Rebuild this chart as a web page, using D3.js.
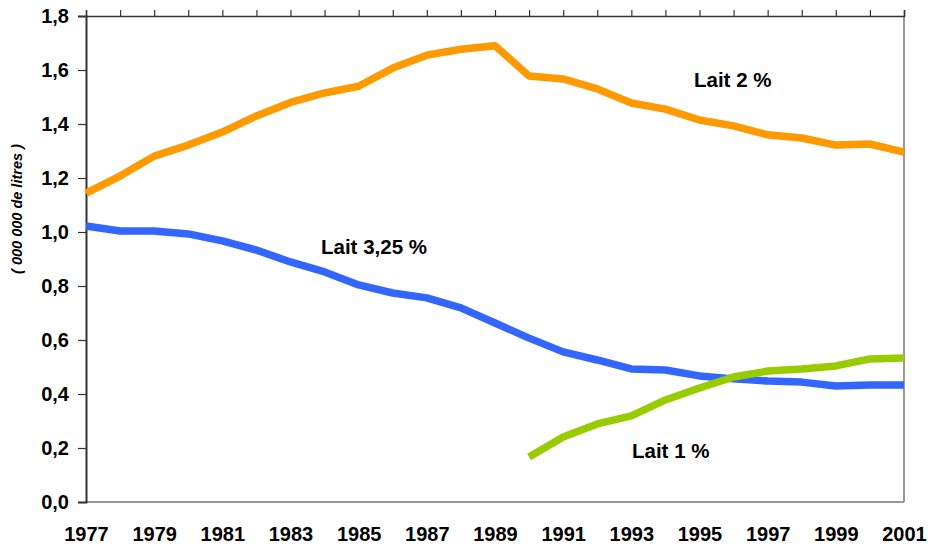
<!DOCTYPE html>
<html>
<head>
<meta charset="utf-8">
<script src="https://cdn.jsdelivr.net/npm/d3@7"></script>
<style>
  html, body { margin: 0; padding: 0; background: #fff; }
  svg { display: block; font-family: "Liberation Sans", Arial, sans-serif; }
</style>
</head>
<body>
<svg id="chart" width="928" height="546"></svg>
<script>
const years = d3.range(1977, 2002);
const xTickLabels = [1977,1979,1981,1983,1985,1987,1989,1991,1993,1995,1997,1999,2001];
const yTicks = [0,0.2,0.4,0.6,0.8,1.0,1.2,1.4,1.6,1.8];

const lait2 = [1.144,1.207,1.281,1.322,1.37,1.43,1.48,1.515,1.54,1.607,1.655,1.677,1.69,
               1.578,1.567,1.53,1.478,1.455,1.415,1.393,1.36,1.348,1.322,1.326,1.296];
const lait325 = [1.022,1.004,1.004,0.993,0.967,0.933,0.889,0.852,0.804,0.774,0.756,0.719,0.663,
                 0.607,0.556,0.526,0.493,0.489,0.467,0.456,0.448,0.444,0.43,0.433,0.433];
const lait1Years = d3.range(1990, 2002);
const lait1 = [0.167,0.241,0.289,0.319,0.378,0.422,0.463,0.485,0.493,0.504,0.53,0.533];

const seriesNames = ["Lait 2 %", "Lait 3,25 %", "Lait 1 %"];
const colors = ["#FF9900", "#3366FF", "#99CC00"];

const svg = d3.select("#chart");
const mLeft = 86, mRight = 904, mTop = 16, mBottom = 502;

const x = d3.scaleLinear().domain([1977, 2001]).range([mLeft, mRight]);
const y = d3.scaleLinear().domain([0, 1.8]).range([mBottom, mTop]);
const fmt = d => d.toFixed(1).replace(".", ",");

// frame: right and bottom gray
svg.append("line").attr("x1", mRight).attr("x2", mRight).attr("y1", mTop).attr("y2", mBottom)
  .attr("stroke", "#999").attr("stroke-width", 2);
svg.append("line").attr("x1", mLeft).attr("x2", mRight).attr("y1", mBottom).attr("y2", mBottom)
  .attr("stroke", "#999").attr("stroke-width", 2);

// top axis with ticks every year (no labels)
const topAxis = svg.append("g").attr("transform", `translate(0,${mTop})`)
  .call(d3.axisTop(x).tickValues(years).tickSize(6).tickFormat(""));
topAxis.select(".domain").attr("stroke", "#333").attr("stroke-width", 1.5);
topAxis.selectAll(".tick line").attr("stroke", "#333").attr("stroke-width", 1.2);

// bottom labels (no ticks)
const botAxis = svg.append("g").attr("transform", `translate(0,${mBottom})`)
  .call(d3.axisBottom(x).tickValues(xTickLabels).tickSize(0).tickPadding(25).tickFormat(d3.format("d")));
botAxis.select(".domain").remove();
botAxis.selectAll("text").attr("font-size", 20).attr("font-weight", "bold").attr("fill", "#000")
  .attr("font-family", "Liberation Sans, Arial, sans-serif");

// left axis
const leftAxis = svg.append("g").attr("transform", `translate(${mLeft},0)`)
  .call(d3.axisLeft(y).tickValues(yTicks).tickSize(8).tickPadding(9).tickFormat(fmt));
leftAxis.select(".domain").attr("stroke", "#333").attr("stroke-width", 2);
leftAxis.selectAll(".tick line").attr("stroke", "#333").attr("stroke-width", 1.2);
leftAxis.selectAll("text").attr("font-size", 20).attr("font-weight", "bold").attr("fill", "#000")
  .attr("font-family", "Liberation Sans, Arial, sans-serif");

// y axis title
svg.append("text")
  .attr("transform", "translate(22,209) rotate(-90)")
  .attr("text-anchor", "middle")
  .attr("font-size", 14.5).attr("font-weight", "bold").attr("font-style", "italic")
  .text("( 000 000 de litres )");

// lines
const line = d3.line().x(d => x(d[0])).y(d => y(d[1]));
const data = [
  years.map((yr, i) => [yr, lait2[i]]),
  years.map((yr, i) => [yr, lait325[i]]),
  lait1Years.map((yr, i) => [yr, lait1[i]])
];
data.forEach((d, i) => {
  svg.append("path").datum(d).attr("d", line)
    .attr("fill", "none").attr("stroke", colors[i]).attr("stroke-width", 7.5)
    .attr("stroke-linejoin", "round");
});

// labels
const labelPos = [[694, 87], [321, 254], [632, 458]];
seriesNames.forEach((n, i) => {
  svg.append("text").attr("x", labelPos[i][0]).attr("y", labelPos[i][1])
    .attr("font-size", 20.5).attr("font-weight", "bold").attr("fill", "#000")
    .text(n);
});
</script>
</body>
</html>
